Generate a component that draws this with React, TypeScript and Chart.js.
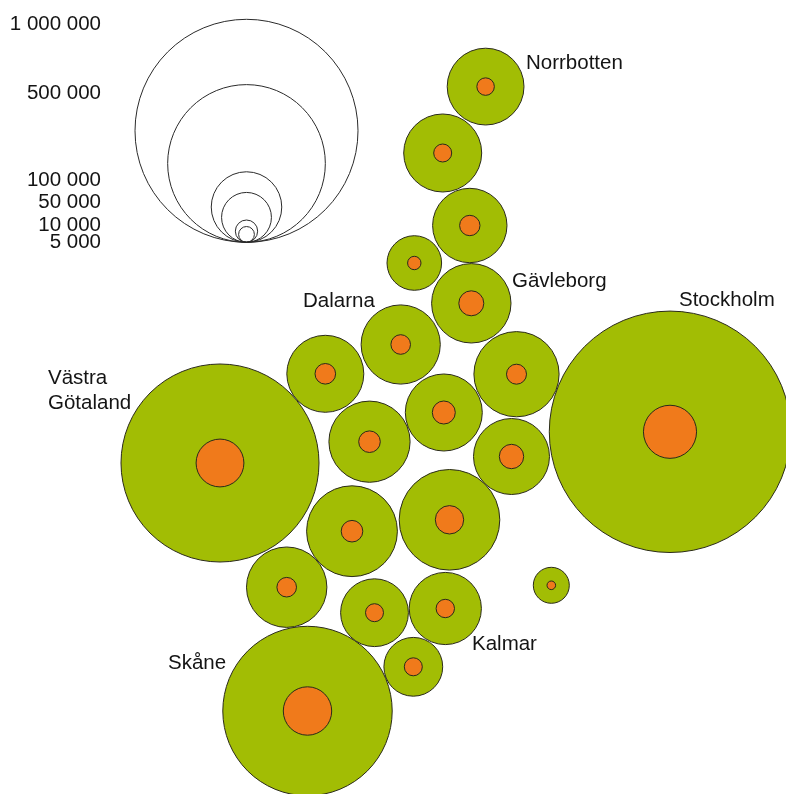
import React, { useEffect, useRef } from "react";
import { Chart, registerables } from "chart.js";

Chart.register(...registerables);

// Radius (px) of a circle per square root of population
const RADIUS_PER_ROOT = 0.1115;

// Scale key (nested circles tangent at the bottom)
const keyValues = [1000000, 500000, 100000, 50000, 10000, 5000];
const keyX = [246.5, 246.5, 246.5, 246.5, 246.5, 246.5];
const keyBottom = 242.3;
const keyLabels = ["1 000 000", "500 000", "100 000", "50 000", "10 000", "5 000"];
const keyLabelY = [24, 93, 180, 202, 225, 242];

// Regions
const regionX = [485.6, 442.7, 469.8, 414.3, 471.3, 400.7, 325.3, 516.5, 443.8, 369.5, 511.5, 449.5, 352, 286.7, 551.3, 374.5, 445.3, 413.3, 307.5, 220, 670];
const regionY = [86.6, 153, 225.5, 263, 303.3, 344.5, 373.8, 374.2, 412.5, 441.7, 456.5, 519.8, 531.2, 587.2, 585.3, 612.7, 608.5, 666.8, 711, 463, 431.8];
const totalValues = [118600, 122350, 111300, 59950, 126800, 126150, 119230, 145980, 119230, 132600, 116150, 203520, 165800, 130000, 26060, 92440, 104830, 69530, 577100, 788400, 1172000];
const innerValues = [6160, 6515, 8370, 3610, 12570, 7725, 8530, 8044, 10640, 9380, 11970, 16220, 9380, 7725, 1487, 6515, 6810, 6515, 47110, 46000, 56700];

// Region labels
const regionLabels = ["Norrbotten", "Gävleborg", "Dalarna", "Stockholm", "Västra", "Götaland", "Skåne", "Kalmar"];
const regionLabelX = [526, 512, 303, 679, 48, 48, 168, 472];
const regionLabelY = [63, 281, 301, 300, 378, 403, 663, 644];

const FONT = '20.5px "Liberation Sans", Arial, sans-serif';
const radius = (v: number) => RADIUS_PER_ROOT * Math.sqrt(v);

const textPlugin = {
  id: "textLabels",
  afterDatasetsDraw(chart: any) {
    const { ctx, scales } = chart;
    ctx.save();
    ctx.fillStyle = "#141414";
    ctx.font = FONT;
    ctx.textBaseline = "middle";
    ctx.textAlign = "right";
    keyLabels.forEach((t, i) => ctx.fillText(t, scales.x.getPixelForValue(101), scales.y.getPixelForValue(keyLabelY[i])));
    ctx.textAlign = "left";
    regionLabels.forEach((t, i) => ctx.fillText(t, scales.x.getPixelForValue(regionLabelX[i]), scales.y.getPixelForValue(regionLabelY[i])));
    ctx.restore();
  },
};

export default function App() {
  const ref = useRef<HTMLCanvasElement>(null);
  useEffect(() => {
    const chart = new Chart(ref.current!, {
      type: "bubble",
      data: {
        datasets: [
          {
            label: "Inner",
            data: regionX.map((x, i) => ({ x, y: regionY[i], r: radius(innerValues[i]) })),
            backgroundColor: "#F07A1B",
            borderColor: "#2a2a1a",
            borderWidth: 1,
            order: 0,
          },
          {
            label: "Total",
            data: regionX.map((x, i) => ({ x, y: regionY[i], r: radius(totalValues[i]) })),
            backgroundColor: "#A2BD04",
            borderColor: "#2a2a1a",
            borderWidth: 1,
            order: 1,
          },
          {
            label: "Key",
            data: keyValues.map((v, i) => ({ x: keyX[i], y: keyBottom - radius(v), r: radius(v) })),
            backgroundColor: "rgba(0,0,0,0)",
            borderColor: "#2a2a2a",
            borderWidth: 1,
            order: 2,
          },
        ],
      },
      options: {
        responsive: false,
        animation: false,
        layout: { padding: 0, autoPadding: false },
        plugins: { legend: { display: false }, tooltip: { enabled: false }, title: { display: false } },
        scales: {
          x: { type: "linear", min: 0, max: 786, display: false },
          y: { type: "linear", min: 0, max: 794, reverse: true, display: false },
        },
      },
      plugins: [textPlugin],
    } as any);
    return () => chart.destroy();
  }, []);
  return (
    <div style={{ position: "fixed", left: 0, top: 0, width: 786, height: 794, background: "#fff" }}>
      <canvas ref={ref} width={786} height={794} style={{ display: "block" }} />
    </div>
  );
}
